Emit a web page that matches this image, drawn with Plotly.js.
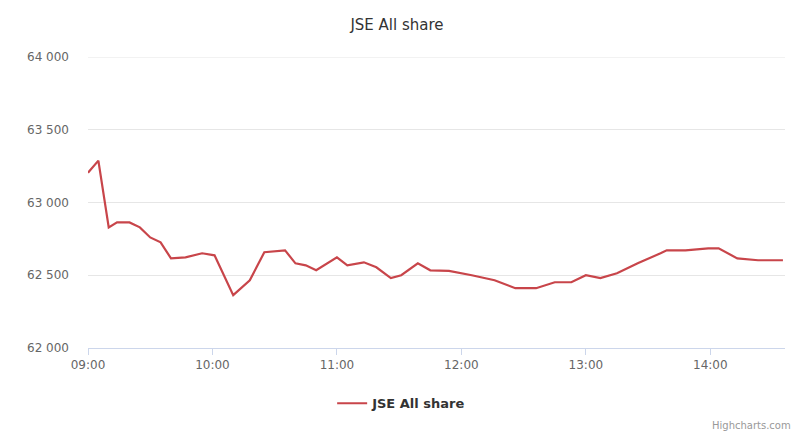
<!DOCTYPE html>
<html>
<head>
<meta charset="utf-8">
<script src="https://cdn.plot.ly/plotly-3.0.1.min.js"></script>
<style>html,body{margin:0;padding:0;background:#fff}#chart{width:794px;height:438px}</style>
</head>
<body>
<div id="chart"></div>
<script>
const seriesName = "JSE All share";
const times = ["09:00","09:05","09:10","09:14","09:20","09:25","09:30","09:35","09:40","09:47","09:55","10:01","10:10","10:18","10:25","10:35","10:40","10:45","10:50","11:00","11:05","11:13","11:19","11:26","11:31","11:39","11:45","11:54","12:05","12:16","12:26","12:36","12:45","12:53","13:00","13:07","13:15","13:25","13:36","13:39","13:48","13:59","14:04","14:13","14:23","14:35"];
const values = [63205,63288,62829,62863,62863,62829,62760,62726,62616,62623,62651,62637,62363,62466,62658,62671,62582,62568,62534,62623,62568,62589,62555,62480,62500,62582,62534,62530,62500,62466,62411,62411,62452,62452,62500,62480,62514,62582,62651,62671,62671,62685,62685,62616,62603,62603];
const yTicks = [62000,62500,63000,63500,64000];
const day = "2024-01-15 ";

const x = times.map(t => day + t);

const font = "'DejaVu Sans', Verdana, sans-serif";
Plotly.newPlot("chart", [{
  x: x, y: values, type: "scatter", mode: "lines", name: seriesName,
  line: {color: "#c8454a", width: 2.2}
}], {
  width: 794, height: 438,
  separators: ". ",
  margin: {l: 88, r: 9, t: 57, b: 90},
  paper_bgcolor: "#fff", plot_bgcolor: "#fff",
  title: {text: "JSE All share", x: 0.5, xanchor: "center", y: 0.943, yanchor: "middle", font: {family: font, size: 15, color: "#333"}},
  xaxis: {
    type: "date", range: [day + "09:00", day + "14:36"],
    dtick: 3600000, tick0: day + "09:00", tickformat: "%H:%M",
    showgrid: false, showline: true, linecolor: "#ccd6eb", linewidth: 1,
    ticks: "outside", ticklen: 6, tickcolor: "#ccd6eb",
    tickfont: {family: font, size: 12, color: "#666"}, zeroline: false
  },
  yaxis: {
    range: [62000, 64000], tickvals: yTicks, tickformat: ",d",
    showgrid: true, gridcolor: "#e6e6e6", gridwidth: 1, zeroline: false, showline: false,
    ticklabelstandoff: 18,
    tickfont: {family: font, size: 12, color: "#666"}
  },
  shapes: [{type: "line", xref: "paper", yref: "y", x0: 0, x1: 1, y0: 64000, y1: 64000,
    line: {color: "#e6e6e6", width: 1}, layer: "below"}],
  showlegend: true,
  legend: {orientation: "h", x: 0.45, xanchor: "center", y: -0.19, yanchor: "middle",
    font: {family: font, size: 13, color: "#333", weight: "bold"}},
  annotations: [{text: "Highcharts.com", xref: "paper", yref: "paper", x: 1.012, xanchor: "right",
    y: -0.265, yanchor: "middle", showarrow: false, font: {family: font, size: 10, color: "#999"}}]
}, {displayModeBar: false, staticPlot: true});
</script>
</body>
</html>
